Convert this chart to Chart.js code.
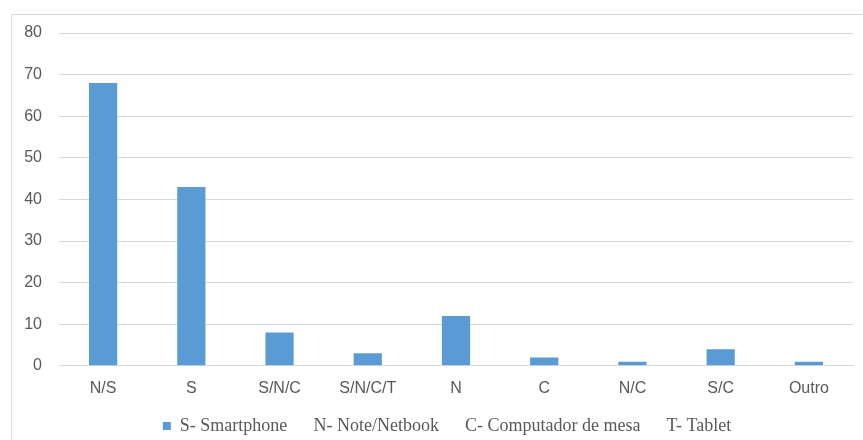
<!DOCTYPE html>
<html>
<head>
<meta charset="utf-8">
<script src="https://cdn.jsdelivr.net/npm/chart.js@4/dist/chart.umd.min.js"></script>
<style>
  body { margin: 0; background: #fff; }
  #wrap { position: relative; width: 863px; height: 440px; overflow: hidden; }
  #frame { position: absolute; left: 11px; top: 14px; width: 900px; height: 500px; border: 1px solid #d9d9d9; }
  canvas { position: absolute; left: 0; top: 0; }
</style>
</head>
<body>
<div id="wrap">
  <div id="frame"></div>
  <canvas id="chart" width="863" height="440"></canvas>
</div>
<script>
// Tipos de dispositivo usados
const categorias = ['N/S', 'S', 'S/N/C', 'S/N/C/T', 'N', 'C', 'N/C', 'S/C', 'Outro'];
const valores = [68, 43, 8, 3, 12, 2, 1, 4, 1];
const ticksY = [0, 10, 20, 30, 40, 50, 60, 70, 80];
const legenda = 'S- Smartphone\u2003\u2009 N- Note/Netbook\u2003\u2009 C- Computador de mesa\u2003\u2009 T- Tablet\u2003';

const cinza = '#595959';
const grade = '#d9d9d9';

new Chart(document.getElementById('chart'), {
    type: 'bar',
    data: {
        labels: categorias,
        datasets: [{
            label: legenda,
            data: valores,
            backgroundColor: '#5B9BD5',
            categoryPercentage: 1,
            barPercentage: 0.32
        }]
    },
    options: {
        responsive: false,
        animation: false,
        layout: { padding: { left: 0, right: 10, top: 33, bottom: -5 } },
        plugins: {
            tooltip: { enabled: false },
            legend: {
                position: 'bottom',
                fullSize: false,
                labels: {
                    color: cinza,
                    font: { family: '"Liberation Serif", "Times New Roman", serif', size: 18 },
                    boxWidth: 8,
                    boxHeight: 8,
                    padding: 14
                }
            }
        },
        scales: {
            x: {
                grid: { display: false },
                border: { color: grade },
                ticks: {
                    color: cinza,
                    font: { family: '"Liberation Sans", Arial, sans-serif', size: 16 },
                    padding: 5,
                    maxRotation: 0
                }
            },
            y: {
                min: 0,
                max: 80,
                afterBuildTicks: (axis) => { axis.ticks = ticksY.map(v => ({ value: v })); },
                afterFit: (axis) => { axis.width = 59; },
                grid: { color: grade, drawTicks: false },
                border: { display: false },
                ticks: {
                    color: cinza,
                    font: { family: '"Liberation Sans", Arial, sans-serif', size: 16 },
                    padding: 17
                }
            }
        }
    }
});
</script>
</body>
</html>
